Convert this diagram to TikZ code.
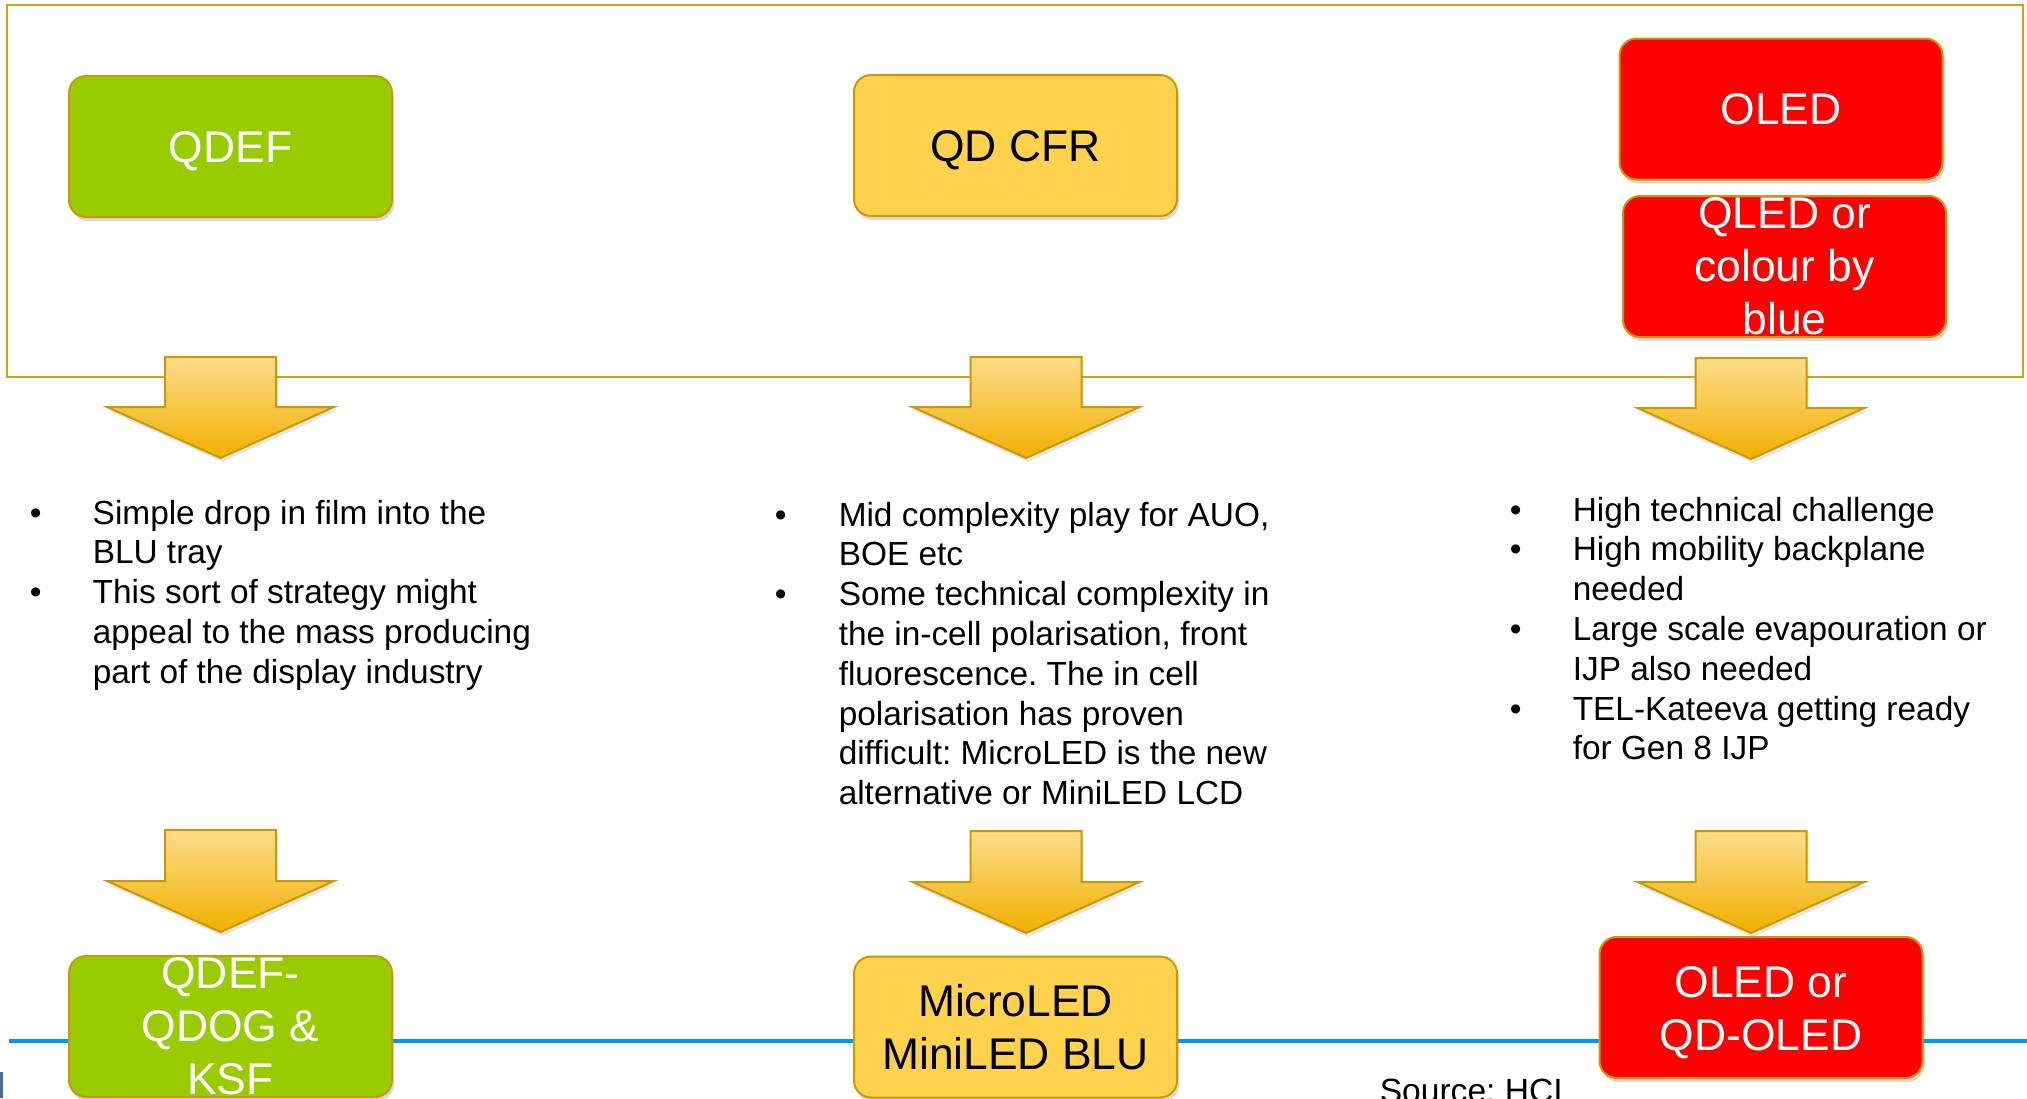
\documentclass[tikz,border=0pt]{standalone}
\usepackage{fontspec}
\setmainfont{Liberation Sans}
\usetikzlibrary{shadows}
\frenchspacing

\definecolor{frameGold}{RGB}{212,160,23}
\definecolor{boxEdge}{RGB}{204,153,0}
\definecolor{qdefGreen}{RGB}{153,204,0}
\definecolor{cfrYellow}{RGB}{255,210,77}
\definecolor{oledRed}{RGB}{255,0,0}
\definecolor{arrowTop}{RGB}{253,220,138}
\definecolor{arrowBot}{RGB}{240,176,0}
\definecolor{ruleBlue}{RGB}{0,150,255}
\definecolor{logoBlue}{RGB}{74,106,154}

\tikzset{every picture/.style={line width=0.75pt}}
\tikzset{
  techbox/.style={rounded corners=8.5pt, draw=boxEdge, line width=1pt, minimum width=161.5pt, minimum height=70.5pt, inner sep=0pt, drop shadow={opacity=0.3, shadow xshift=1pt, shadow yshift=-2pt}},
  boxlabel/.style={inner sep=0pt, align=center, font=\fontsize{22.2}{26.5}\selectfont},
  bullettext/.style={anchor=base west, inner sep=0pt, font=\fontsize{16.7}{19.9}\selectfont},
  downarrow/.style={draw=boxEdge, line width=1pt, top color=arrowTop, bottom color=arrowBot, drop shadow={opacity=0.2, shadow xshift=1pt, shadow yshift=-2pt}}
}

\begin{document}
\begin{tikzpicture}[x=0.5pt,y=0.5pt,yscale=-1,xscale=1]
		\useasboundingbox (0,0) rectangle (2027,1098);
		
		%Shape: Rectangle [frame round the starting technologies]
		\draw [frameGold, line width=1pt] (7,5) -- (2023,5) -- (2023,377) -- (7,377) -- cycle ;
		%Shape: Line [blue rule]
		\draw [ruleBlue, line width=2pt] (9,1041) -- (2027,1041) ;
		\fill [logoBlue] (0,1072) rectangle (2.5,1098) ;
		
		% top row
		\node [techbox, fill=qdefGreen] (qdef) at (230.5,146.5) {};
		\node [boxlabel, text=white] (qdeftext) at (230.5,151) {QDEF};
		\node [techbox, fill=cfrYellow] (qdcfr) at (1015.5,145.5) {};
		\node [boxlabel] (qdcfrtext) at (1015.5,150.5) {QD CFR};
		\node [techbox, fill=oledRed] (oled) at (1781,109) {};
		\node [boxlabel, text=white] (oledtext) at (1781,109) {OLED};
		\node [techbox, fill=oledRed] (qled) at (1784.5,266.5) {};
		\node [boxlabel, text=white] (qledtext) at (1784.5,266.5) {QLED or\\colour by\\blue};
		
		%Shape: Down Arrow [top row]
		\draw [downarrow, shift={(220.5,357)}] (-55.5,0) -- (55.5,0) -- (55.5,50) -- (113.5,50) -- (0,101) -- (-113.5,50) -- (-55.5,50) -- cycle ;
		\draw [downarrow, shift={(1026,357)}] (-55.5,0) -- (55.5,0) -- (55.5,50) -- (113.5,50) -- (0,101) -- (-113.5,50) -- (-55.5,50) -- cycle ;
		\draw [downarrow, shift={(1751,358)}] (-55.5,0) -- (55.5,0) -- (55.5,50) -- (113.5,50) -- (0,101) -- (-113.5,50) -- (-55.5,50) -- cycle ;
		
		% bullet lists
		\node [bullettext] (qdefnotes) at (29,524) {%
			\begin{tabular}[t]{@{}p{31.5pt}@{}l@{}}
				\textbullet & Simple drop in film into the\\
				 & BLU tray\\
				\textbullet & This sort of strategy might\\
				 & appeal to the mass producing\\
				 & part of the display industry
			\end{tabular}};
		\node [bullettext] (cfrnotes) at (774,526) {%
			\begin{tabular}[t]{@{}p{32pt}@{}l@{}}
				\textbullet & Mid complexity play for AUO,\\
				 & BOE etc\\
				\textbullet & Some technical complexity in\\
				 & the in-cell polarisation, front\\
				 & fluorescence. The in cell\\
				 & polarisation has proven\\
				 & difficult: MicroLED is the new\\
				 & alternative or MiniLED LCD
			\end{tabular}};
		\node [bullettext] (olednotes) at (1509,521) {%
			\begin{tabular}[t]{@{}p{31.5pt}@{}l@{}}
				\textbullet & High technical challenge\\
				\textbullet & High mobility backplane\\
				 & needed\\
				\textbullet & Large scale evapouration or\\
				 & IJP also needed\\
				\textbullet & TEL-Kateeva getting ready\\
				 & for Gen 8 IJP
			\end{tabular}};
		
		%Shape: Down Arrow [bottom row]
		\draw [downarrow, shift={(220.5,830)}] (-55.5,0) -- (55.5,0) -- (55.5,51) -- (113.5,51) -- (0,102) -- (-113.5,51) -- (-55.5,51) -- cycle ;
		\draw [downarrow, shift={(1026,831)}] (-55.5,0) -- (55.5,0) -- (55.5,51) -- (113.5,51) -- (0,102) -- (-113.5,51) -- (-55.5,51) -- cycle ;
		\draw [downarrow, shift={(1751,831)}] (-55.5,0) -- (55.5,0) -- (55.5,51) -- (113.5,51) -- (0,102) -- (-113.5,51) -- (-55.5,51) -- cycle ;
		
		% bottom row
		\node [techbox, fill=qdefGreen] (qdog) at (230.5,1026.5) {};
		\node [boxlabel, text=white] (qdogtext) at (230.5,1026.5) {QDEF-\\QDOG \&\\KSF};
		\node [techbox, fill=cfrYellow] (microled) at (1015.5,1027) {};
		\node [boxlabel] (microledtext) at (1015.5,1027) {MicroLED\\MiniLED BLU};
		\node [techbox, fill=oledRed] (qdoled) at (1761,1007.5) {};
		\node [boxlabel, text=white] (qdoledtext) at (1761,1013) {OLED or\\QD-OLED};
		
		\draw (1379,1102) node [anchor=base west][inner sep=0pt][font=\fontsize{16.8}{20}\selectfont] (source) {Source: HCI};
		
\end{tikzpicture}
\end{document}
